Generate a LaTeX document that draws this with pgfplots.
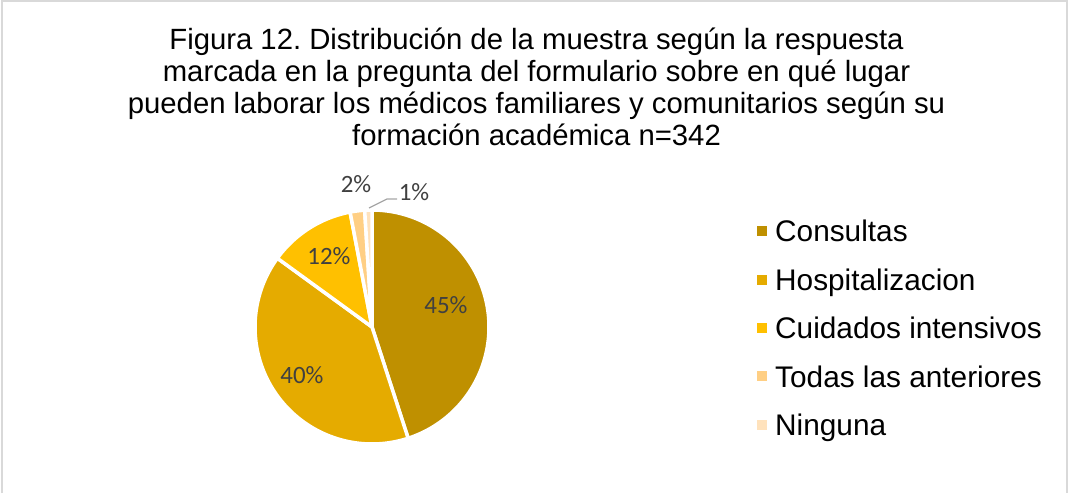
\documentclass[border=0pt]{standalone}
\usepackage{pgfplots}
\pgfplotsset{compat=1.18}
\usepackage{pgfplotstable}
\usepackage{fontspec}
\setmainfont{Liberation Sans}
\newfontfamily\calibri{Carlito}
\frenchspacing

\definecolor{cConsultas}{HTML}{BF9000}
\definecolor{cHosp}{HTML}{E5AB00}
\definecolor{cCuid}{HTML}{FFC000}
\definecolor{cTodas}{HTML}{FFCF84}
\definecolor{cNinguna}{HTML}{FFE2BC}
\definecolor{lblgray}{HTML}{404040}
\definecolor{framegray}{HTML}{D9D9D9}

% porcentaje de cada respuesta (n=342)
\pgfplotstableread{
cat pct
Consultas 45
Hospitalizacion 40
Cuidados 12
Todas 2
Ninguna 1
}\piedata

\newcommand{\cumA}{90}
% one wedge per table row, clockwise from 12 o'clock
\newcommand\slice[2]{%
  \pgfplotstablegetelem{#1}{pct}\of\piedata
  \pgfmathsetmacro\sA{\cumA}%
  \pgfmathsetmacro\sB{\cumA-3.6*\pgfplotsretval}%
  \xdef\cumA{\sB}%
  \addplot[fill=#2, draw=white, line width=3.5bp, line join=round,
    domain=\sB:\sA, samples=90, forget plot]
    ({372+117*cos(x)},{166+117*sin(x)}) -- (axis cs:372,166) -- cycle;
}

\begin{document}
\begin{tikzpicture}
\begin{axis}[
    scale only axis, width=1068bp, height=493bp,
    xmin=0, xmax=1068, ymin=0, ymax=493,
    hide axis, clip=false,
    legend image code/.code={\fill[#1, draw=none] (0bp,-4.4bp) rectangle (10bp,5.6bp);},
    legend cell align=left,
    legend style={draw=none, fill=none, inner sep=0pt,
      font=\fontsize{29.9}{34}\selectfont,
      nodes={inner sep=0pt}, column sep=8bp, row sep=25.3bp,
      at={(axis cs:757,272.8)}, anchor=north west},
]
\path (axis cs:0,0) rectangle (axis cs:1068,493);
\draw[framegray, line width=1.8bp] (axis cs:1.8,0) -- (axis cs:1.8,492)
  -- (axis cs:1066.6,492) -- (axis cs:1066.6,0);

\slice{0}{cConsultas}
\slice{1}{cHosp}
\slice{2}{cCuid}
\slice{3}{cTodas}
\slice{4}{cNinguna}

\addlegendimage{fill=cConsultas}
\addlegendentry{Consultas}
\addlegendimage{fill=cHosp}
\addlegendentry{Hospitalizacion}
\addlegendimage{fill=cCuid}
\addlegendentry{Cuidados intensivos}
\addlegendimage{fill=cTodas}
\addlegendentry{Todas las anteriores}
\addlegendimage{fill=cNinguna}
\addlegendentry{Ninguna}

% data labels
\begin{scope}[every node/.style={font=\calibri\fontsize{25}{25}\selectfont, text=lblgray, inner sep=0pt}]
\node at (axis cs:446,187.5) {45\%};
\node at (axis cs:302,117.5) {40\%};
\node at (axis cs:329,236.5) {12\%};
\node at (axis cs:356,309) {2\%};
\node at (axis cs:414,301) {1\%};
\end{scope}
\draw[gray!70, line width=1.2bp] (axis cs:369,285) -- (axis cs:387,294) -- (axis cs:397,294);

% title
\begin{scope}[every node/.style={font=\fontsize{29.4}{32}\selectfont, anchor=base, inner sep=0pt}]
\node at (axis cs:536.5,443) {Figura 12. Distribución de la muestra según la respuesta};
\node at (axis cs:536.5,411) {marcada en la pregunta del formulario sobre en qué lugar};
\node at (axis cs:536.5,379) {pueden laborar los médicos familiares y comunitarios según su};
\node at (axis cs:536.5,347) {formación académica n=342};
\end{scope}
\end{axis}
\end{tikzpicture}
\end{document}
